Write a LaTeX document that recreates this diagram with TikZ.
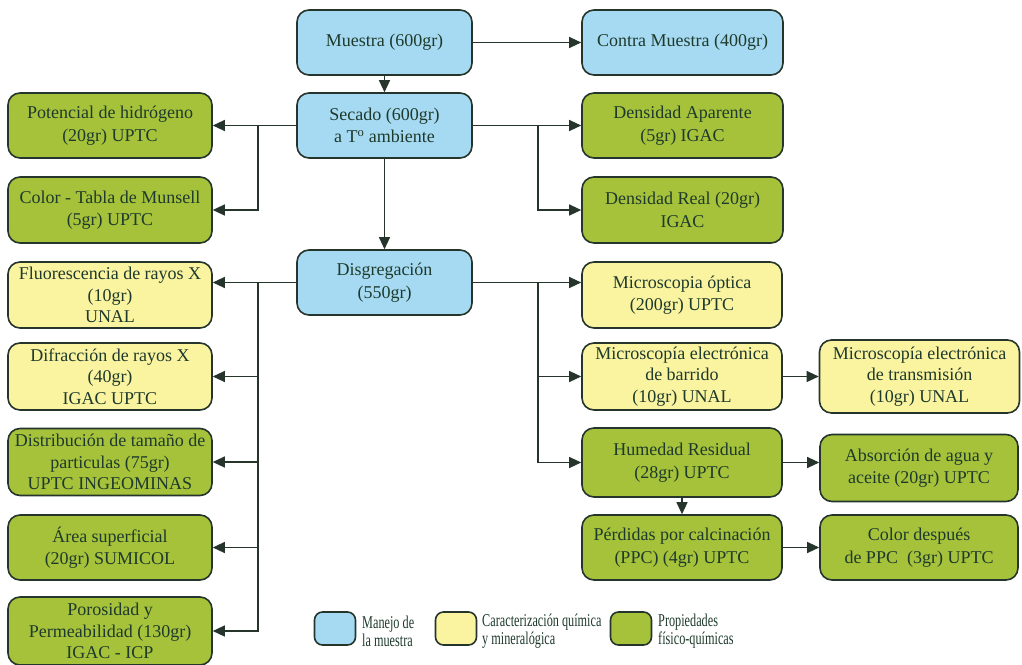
\documentclass[tikz,border=0pt]{standalone}
\usepackage{fontspec}
\setmainfont{Liberation Serif}
\newfontfamily\tnr{Liberation Serif}
\newfontfamily\tnrc{Liberation Serif}[FakeStretch=0.68]
\usetikzlibrary{arrows.meta}
\definecolor{cblue}{HTML}{A6DAF2}
\definecolor{cyellow}{HTML}{FAF3A0}
\definecolor{cgreen}{HTML}{A6C23A}
\definecolor{cborder}{HTML}{26352C}
\definecolor{ctext}{HTML}{1E3A2C}
\tikzset{
  bx/.style={draw=cborder, line width=1.6pt, rounded corners=12pt, align=center,
    text=ctext, inner sep=0pt, font=\tnr\fontsize{18}{22.5}\selectfont},
  bbox/.style={bx, fill=cblue},
  ybox/.style={bx, fill=cyellow},
  gbox/.style={bx, fill=cgreen},
  tri/.style={font=\tnr\fontsize{18}{21.5}\selectfont},
  lg/.style={draw=cborder, line width=1.6pt, rounded corners=8pt, minimum width=41pt, minimum height=33pt, inner sep=0pt},
  lgtext/.style={anchor=west, align=left, text=ctext, inner sep=0pt, font=\tnrc\fontsize{18}{18}\selectfont},
  arr/.style={draw=cborder, line width=1.2pt, -{Triangle[length=12pt,width=11pt]}},
}
\begin{document}
\begin{tikzpicture}[x=1pt,y=-1pt]
\useasboundingbox (0,0) rectangle (1022,664);
% row 1
\node[bbox, minimum width=175pt, minimum height=65pt] (muestra) at (384.5,42.5) {Muestra (600gr)};
\node[bbox, minimum width=201pt, minimum height=65pt] (contra) at (682.5,42.5) {Contra Muestra (400gr)};
% row 2
\node[bbox, minimum width=175pt, minimum height=65pt] (secado) at (384.5,125.5) {Secado (600gr)\\a T\textsuperscript{o} ambiente};
\node[gbox, minimum width=201pt, minimum height=65pt] (densap) at (682.5,125.5) {Densidad Aparente\\(5gr) IGAC};
\node[gbox, minimum width=204pt, minimum height=65pt] (pot) at (110,125.5) {Potencial de hidrógeno\\(20gr) UPTC};
% row 3
\node[gbox, minimum width=204pt, minimum height=66pt] (munsell) at (110,210) {Color - Tabla de Munsell\\(5gr) UPTC};
\node[gbox, minimum width=201pt, minimum height=66pt] (densreal) at (682.5,210) {Densidad Real (20gr)\\IGAC};
% disgregacion
\node[bbox, minimum width=175pt, minimum height=65pt] (disg) at (384.5,282.5) {Disgregación\\(550gr)};
% left column
\node[ybox, tri, minimum width=204pt, minimum height=66pt] (fluor) at (110,295) {Fluorescencia de rayos X\\(10gr)\\UNAL};
\node[ybox, tri, minimum width=204pt, minimum height=67pt] (difr) at (110,376.5) {Difracción de rayos X\\(40gr)\\IGAC UPTC};
\node[gbox, tri, minimum width=204pt, minimum height=67pt] (distr) at (110,462) {Distribución de tamaño de\\particulas (75gr)\\UPTC INGEOMINAS};
\node[gbox, minimum width=204pt, minimum height=65pt] (area) at (110,547.5) {Área superficial\\(20gr) SUMICOL};
\node[gbox, tri, minimum width=204pt, minimum height=68pt] (poros) at (110,631) {Porosidad y\\Permeabilidad (130gr)\\IGAC - ICP};
% right column
\node[ybox, minimum width=200pt, minimum height=66pt] (mopt) at (682,295) {Microscopia óptica\\(200gr) UPTC};
\node[ybox, tri, minimum width=200pt, minimum height=67pt] (barr) at (682,376.5) {Microscopía electrónica\\de barrido\\(10gr) UNAL};
\node[ybox, tri, minimum width=200pt, minimum height=73pt] (trans) at (919.5,376.5) {Microscopía electrónica\\de transmisión\\(10gr) UNAL};
\node[gbox, minimum width=200pt, minimum height=69pt] (hum) at (682,462.5) {Humedad Residual\\(28gr) UPTC};
\node[gbox, minimum width=198pt, minimum height=67pt] (abs) at (919,468) {Absorción de agua y\\aceite (20gr) UPTC};
\node[gbox, minimum width=200pt, minimum height=65pt] (perd) at (682,547.5) {Pérdidas por calcinación\\(PPC) (4gr) UPTC};
\node[gbox, minimum width=198pt, minimum height=65pt] (colpp) at (919,547.5) {Color después\\de PPC~~(3gr) UPTC};
% legend
\node[lg, fill=cblue] (lg1) at (335,628.5) {};
\node[lgtext] (lt1) at (362,631) {Manejo de\\la muestra};
\node[lg, fill=cyellow] (lg2) at (456,628.5) {};
\node[lgtext] (lt2) at (482,631) {Caracterización química\\y mineralógica};
\node[lg, fill=cgreen] (lg3) at (631,628.5) {};
\node[lgtext] (lt3) at (658,631) {Propiedades\\físico-químicas};
% connectors
\draw[arr] (muestra) -- (secado);
\draw[arr] (muestra) -- (contra);
\draw[arr] (secado.east) -- (densap.west);
\coordinate (rb1) at (538,125.5);
\draw[arr] (rb1) |- (densreal.west);
\draw[arr] (secado.west) -- (pot.east);
\coordinate (lb1) at (258,125.5);
\draw[arr] (lb1) |- (munsell.east);
\draw[arr] (secado) -- (disg);
% disgregacion right
\draw[arr] (disg.east) -- (disg.east -| mopt.west);
\coordinate (rb2) at (538,282.5);
\draw[arr] (rb2) |- (barr.west);
\draw[arr] (rb2) |- (hum.west);
% disgregacion left
\draw[arr] (disg.west) -- (disg.west -| fluor.east);
\coordinate (lb2) at (258,282.5);
\draw[arr] (lb2) |- (difr.east);
\draw[arr] (lb2) |- (distr.east);
\draw[arr] (lb2) |- (area.east);
\draw[arr] (lb2) |- (poros.east);
% right chains
\draw[arr] (barr) -- (barr -| trans.west);
\draw[arr] (hum) -- (hum -| abs.west);
\draw[arr] (hum) -- (perd);
\draw[arr] (perd) -- (colpp);
\end{tikzpicture}
\end{document}
